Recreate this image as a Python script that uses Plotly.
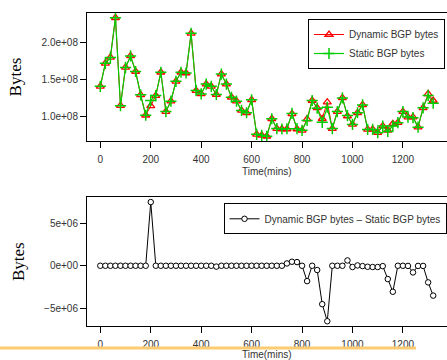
import plotly.graph_objects as go

time_mins = [0, 20, 40, 60, 80, 100, 120, 140, 160, 180,
             200, 220, 240, 260, 280, 300, 320, 340, 360, 380,
             400, 420, 440, 460, 480, 500, 520, 540, 560, 580,
             600, 620, 640, 660, 680, 700, 720, 740, 760, 780,
             800, 820, 840, 860, 880, 900, 920, 940, 960, 980,
             1000, 1020, 1040, 1060, 1080, 1100, 1120, 1140, 1160, 1180,
             1200, 1220, 1240, 1260, 1280, 1300, 1320]

# Dynamic BGP bytes (units of 1e8)
dynamic_e8 = [1.41, 1.72, 1.80, 2.335, 1.15, 1.665, 1.82, 1.61, 1.295, 1.02,
              1.147, 1.286, 1.60, 1.07, 1.21, 1.478, 1.60, 1.59, 2.125, 1.353,
              1.308, 1.44, 1.41, 1.30, 1.576, 1.44, 1.263, 1.21, 1.085, 1.054,
              1.228, 0.763, 0.75, 0.737, 0.973, 0.84, 0.835, 0.835, 1.04, 0.835,
              0.817, 0.969, 1.219, 1.12, 0.973, 1.196, 0.84, 1.07, 1.254, 1.01,
              0.897, 1.054, 1.16, 0.83, 0.83, 0.786, 0.875, 0.817, 0.906, 0.92,
              1.07, 0.996, 0.996, 0.86, 1.12, 1.308, 1.219]

# Static BGP bytes (units of 1e8)
static_e8 = [1.41, 1.72, 1.80, 2.335, 1.15, 1.665, 1.82, 1.61, 1.295, 1.02,
             1.22, 1.286, 1.60, 1.07, 1.21, 1.478, 1.60, 1.59, 2.125, 1.353,
             1.308, 1.44, 1.41, 1.30, 1.576, 1.44, 1.263, 1.21, 1.085, 1.054,
             1.228, 0.763, 0.75, 0.737, 0.973, 0.84, 0.835, 0.838, 1.045, 0.839,
             0.817, 0.951, 1.219, 1.115, 0.925, 1.128, 0.84, 1.07, 1.254, 1.016,
             0.896, 1.054, 1.16, 0.829, 0.829, 0.785, 0.875, 0.801, 0.876, 0.92,
             1.07, 0.996, 0.988, 0.86, 1.12, 1.288, 1.182]

# Difference panel (units of 1e6)
diff_e6 = [0, 0, 0, 0, 0, 0, 0, 0, 0, 0,
           7.46, 0, 0, 0, 0, 0, 0, 0, 0, 0,
           0, 0, 0, -0.1, 0, 0, 0, 0, 0, 0,
           0, 0, 0, 0, 0, 0, 0, 0.27, 0.47, 0.43,
           0, -1.8, 0, -0.5, -4.5, -6.5, 0, 0, 0, 0.62,
           -0.15, 0.04, -0.04, -0.12, -0.15, -0.15, -0.04, -1.56, -3.05, 0,
           0, -0.02, -0.78, -0.02, -0.02, -1.95, -3.5]

x_ticks = [0, 200, 400, 600, 800, 1000, 1200]
top_ticks = [1.0e8, 1.5e8, 2.0e8]
top_ticktext = ["1.0e+08", "1.5e+08", "2.0e+08"]
bot_ticks = [-5e6, 0, 5e6]
bot_ticktext = ["\u22125e+06", "0e+00", "5e+06"]

dynamic = [v * 1e8 for v in dynamic_e8]
static = [v * 1e8 for v in static_e8]
diff = [v * 1e6 for v in diff_e6]


def rrange(vals):
    lo, hi = min(vals), max(vals)
    pad = (hi - lo) * 0.04
    return [lo - pad, hi + pad]


RED = "#FF0000"
GREEN = "#00CD00"
FONT = "Liberation Sans"
TXT = "#333333"

fig = go.Figure()
fig.add_trace(go.Scatter(
    x=time_mins, y=dynamic, mode="lines+markers", name="Dynamic BGP bytes",
    line=dict(color=RED, width=1),
    marker=dict(symbol="triangle-up-open", size=7, color=RED, line=dict(width=1.3)),
    xaxis="x", yaxis="y", legend="legend"))
fig.add_trace(go.Scatter(
    x=time_mins, y=static, mode="lines+markers", name="Static BGP bytes",
    line=dict(color=GREEN, width=1.2),
    marker=dict(symbol="cross-thin-open", size=8, color=GREEN, line=dict(width=1.5, color=GREEN)),
    xaxis="x", yaxis="y", legend="legend"))
fig.add_trace(go.Scatter(
    x=time_mins, y=diff, mode="lines+markers",
    name="Dynamic BGP bytes \u2013 Static BGP bytes",
    line=dict(color="black", width=1),
    marker=dict(symbol="circle", size=5.5, color="white", line=dict(width=1, color="black")),
    xaxis="x2", yaxis="y2", legend="legend2"))

xr = rrange(time_mins)
W, H = 447, 360
xdom = [87 / W, 446.5 / W]

axis_common = dict(
    showline=True, mirror=True, linecolor="black", linewidth=1,
    ticks="outside", ticklen=6, tickcolor="black", tickwidth=1,
    showgrid=False, zeroline=False,
    tickfont=dict(family=FONT, size=10, color=TXT),
)

xtitle = dict(text="Time(mins)", font=dict(family=FONT, size=10, color=TXT), standoff=3)
ytitle = dict(text="Bytes", font=dict(family="Liberation Serif", size=17, color="black"), standoff=15)

fig.update_layout(
    width=W, height=H,
    margin=dict(l=0, r=0, t=0, b=0),
    paper_bgcolor="white", plot_bgcolor="white",
    font=dict(family=FONT, size=10, color="black"),
    xaxis=dict(domain=xdom, range=xr, tickvals=x_ticks, anchor="y", title=xtitle,
               ticklabelstandoff=3, automargin=False, **axis_common),
    yaxis=dict(domain=[1 - 141 / H, 1 - 13 / H], range=rrange(dynamic + static),
               tickvals=top_ticks, ticktext=top_ticktext, anchor="x", title=ytitle,
               automargin=False, **axis_common),
    xaxis2=dict(domain=xdom, range=xr, tickvals=x_ticks, anchor="y2", title=xtitle,
                ticklabelstandoff=3, automargin=False, **axis_common),
    yaxis2=dict(domain=[1 - 326 / H, 1 - 197.3 / H], range=rrange(diff),
                tickvals=bot_ticks, ticktext=bot_ticktext, anchor="x2", title=ytitle,
                automargin=False, **axis_common),
    legend=dict(x=445 / W, xanchor="right", y=1 - 19 / H, yanchor="top",
                bordercolor="black", borderwidth=1, bgcolor="white",
                font=dict(family=FONT, size=10, color=TXT), itemwidth=30, tracegroupgap=0),
    legend2=dict(x=446.5 / W, xanchor="right", y=1 - 203.3 / H, yanchor="top",
                 bordercolor="black", borderwidth=1, bgcolor="white",
                 font=dict(family=FONT, size=10, color=TXT), itemwidth=30),
    showlegend=True,
)

fig.add_shape(type="line", xref="paper", yref="paper",
              x0=0, x1=416 / W, y0=1 - 348 / H, y1=1 - 348 / H,
              line=dict(color="#FDCB72", width=3))

fig.write_html("out.html")
